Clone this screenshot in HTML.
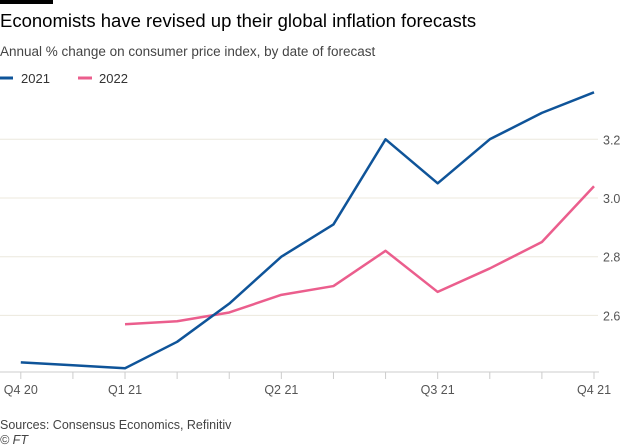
<!DOCTYPE html>
<html><head><meta charset="utf-8"><style>
body{margin:0;background:#fff;width:624px;height:446px;overflow:hidden;font-family:"Liberation Sans",sans-serif}
</style></head><body>
<svg width="624" height="446" style="position:absolute;left:0;top:0">
<rect x="0" y="0" width="53" height="4" fill="#000"/>
<text x="0" y="27" font-size="18.5" fill="#000">Economists have revised up their global inflation forecasts</text>
<text x="0" y="56" font-size="13.5" fill="#444">Annual % change on consumer price index, by date of forecast</text>
<g>
<line x1="0" y1="78" x2="13" y2="78" stroke="#0f5499" stroke-width="3"/>
<text x="21" y="83" font-size="13" fill="#333">2021</text>
<line x1="78" y1="78" x2="92" y2="78" stroke="#eb5e8d" stroke-width="3"/>
<text x="99" y="83" font-size="13" fill="#333">2022</text>
</g>
<g id="plot"></g>
<text x="0" y="429" font-size="12.5" fill="#444">Sources: Consensus Economics, Refinitiv</text>
<text x="0" y="444" font-size="12.5" fill="#444" font-style="italic">© FT</text>
</svg>
<script>
const categories=["Q4 20","","Q1 21","","","Q2 21","","","Q3 21","","","Q4 21"];
const series2021=[2.44,2.43,2.42,2.51,2.64,2.80,2.91,3.20,3.05,3.20,3.29,3.36];
const series2022=[null,null,2.57,2.58,2.61,2.67,2.70,2.82,2.68,2.76,2.85,3.04];
const yTicks=[2.6,2.8,3.0,3.2];
const NS="http://www.w3.org/2000/svg";
const g=document.getElementById('plot');
const x0=20.8,x1=594,base=372;
const xs=i=>x0+(x1-x0)*i/(categories.length-1);
const ys=v=>198-(v-3.0)*293.5;
function mk(t,a){const e=document.createElementNS(NS,t);for(const k in a)e.setAttribute(k,a[k]);g.appendChild(e);return e;}
yTicks.forEach(v=>{
 const l=mk('line',{x1:0,x2:598,y1:ys(v),y2:ys(v),stroke:'#ece8dd','stroke-width':1});
 
 
 const t=mk('text',{x:603,y:ys(v)+5,'font-size':12.5,fill:'#555'});
 t.textContent=v.toFixed(1);
 
 
});
const ax=mk('line',{x1:0,x2:599,y1:base,y2:base,stroke:'#ccc','stroke-width':1});


categories.forEach((c,i)=>{
 const tk=mk('line',{x1:xs(i),x2:xs(i),y1:base,y2:base+7,stroke:'#ccc'});
 
 
 if(c){const t=mk('text',{x:xs(i),y:base+22,'font-size':12.5,fill:'#555','text-anchor':'middle'});
 t.textContent=c;
 
 }
});
function line(data,color,name){
 let d='';data.forEach((v,i)=>{if(v==null)return;d+=(d?'L':'M')+xs(i)+','+ys(v);});
 const p=mk('path',{d:d,fill:'none',stroke:color,'stroke-width':2.5,'stroke-linejoin':'round'});
 
 
}
line(series2022,'#eb5e8d','line-2022');
line(series2021,'#0f5499','line-2021');
</script>
</body></html>
